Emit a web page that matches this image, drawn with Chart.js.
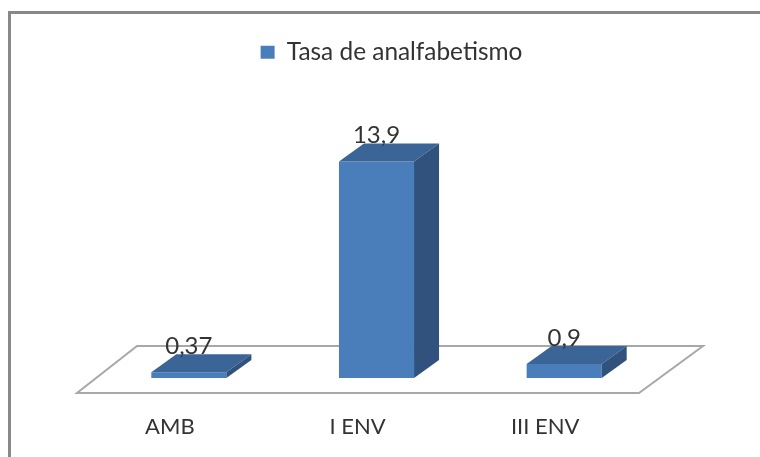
<!DOCTYPE html>
<html>
<head>
<meta charset="utf-8">
<script src="https://cdn.jsdelivr.net/npm/chart.js@4"></script>
<style>
  html, body { margin: 0; padding: 0; background: #fff; overflow: hidden; }
  #wrap { width: 760px; height: 457px; }
</style>
</head>
<body>
<div id="wrap"><canvas id="myChart" width="760" height="457"></canvas></div>
<script>
var categories = ['AMB', 'I ENV', 'III ENV'];
var seriesName = 'Tasa de analfabetismo';
var seriesValues = [0.37, 13.9, 0.9];

var fontName = 'Lato, "Open Sans", sans-serif';
var textColor = '#333333';
var depthX = 25;
var depthY = 18;

// frame, floor, 3d faces and value labels are not in Chart.js
var fake3d = {
  id: 'fake3d',
  afterLayout: function(chart) {
    // legend sits a bit right of the canvas centre
    chart.legend.left += 15;
    chart.legend.right += 15;
  },
  beforeDatasetsDraw: function(chart) {
    var c = chart.ctx;
    var area = chart.chartArea;
    var base = chart.scales.y.getPixelForValue(0);

    c.save();
    c.strokeStyle = '#888888';
    c.lineWidth = 3;
    c.beginPath();
    c.moveTo(9.5, 457);
    c.lineTo(9.5, 12.5);
    c.lineTo(760, 12.5);
    c.stroke();

    c.strokeStyle = '#a8a8a8';
    c.lineWidth = 2;
    c.beginPath();
    c.moveTo(area.left - 18, base + 15);
    c.lineTo(area.right - 19, base + 15);
    c.lineTo(area.right + 45, base - 32);
    c.lineTo(area.left + 42, base - 32);
    c.closePath();
    c.stroke();
    c.restore();
  },
  afterDatasetsDraw: function(chart) {
    var c = chart.ctx;
    var bars = chart.getDatasetMeta(0).data;
    c.save();
    bars.forEach(function(bar, i) {
      var l = bar.x - bar.width / 2;
      var r = bar.x + bar.width / 2;

      c.fillStyle = '#3b6497';
      c.beginPath();
      c.moveTo(l, bar.y);
      c.lineTo(l + depthX, bar.y - depthY);
      c.lineTo(r + depthX, bar.y - depthY);
      c.lineTo(r, bar.y);
      c.closePath();
      c.fill();

      c.fillStyle = '#30527d';
      c.beginPath();
      c.moveTo(r, bar.y);
      c.lineTo(r + depthX, bar.y - depthY);
      c.lineTo(r + depthX, bar.base - depthY);
      c.lineTo(r, bar.base);
      c.closePath();
      c.fill();

      c.fillStyle = textColor;
      c.font = '24px ' + fontName;
      c.textAlign = 'center';
      c.textBaseline = 'middle';
      c.fillText(String(seriesValues[i]).replace('.', ','), bar.x, bar.y - 26);
    });
    c.restore();
  }
};

var ctx = document.getElementById('myChart').getContext('2d');
var myChart = new Chart(ctx, {
  type: 'bar',
  data: {
    labels: categories,
    datasets: [{
      label: seriesName,
      data: seriesValues,
      backgroundColor: '#4a7ebb',
      borderWidth: 0,
      categoryPercentage: 0.4,
      barPercentage: 1
    }]
  },
  options: {
    responsive: false,
    animation: false,
    layout: { padding: { left: 95, right: 102, top: 30, bottom: 4 } },
    plugins: {
      tooltip: { enabled: false },
      legend: {
        position: 'top',
        labels: {
          boxWidth: 14,
          boxHeight: 13,
          color: textColor,
          padding: 10,
          font: { family: fontName, size: 24.4 }
        }
      }
    },
    scales: {
      x: {
        afterFit: function(scale) { scale.height = 75; },
        grid: { display: false },
        border: { display: false },
        ticks: {
          color: textColor,
          padding: 28,
          labelOffset: -19,
          maxRotation: 0,
          font: { family: fontName, size: 22 }
        }
      },
      y: {
        display: false,
        min: 0,
        max: 19.5
      }
    }
  },
  plugins: [fake3d]
});
</script>
</body>
</html>
